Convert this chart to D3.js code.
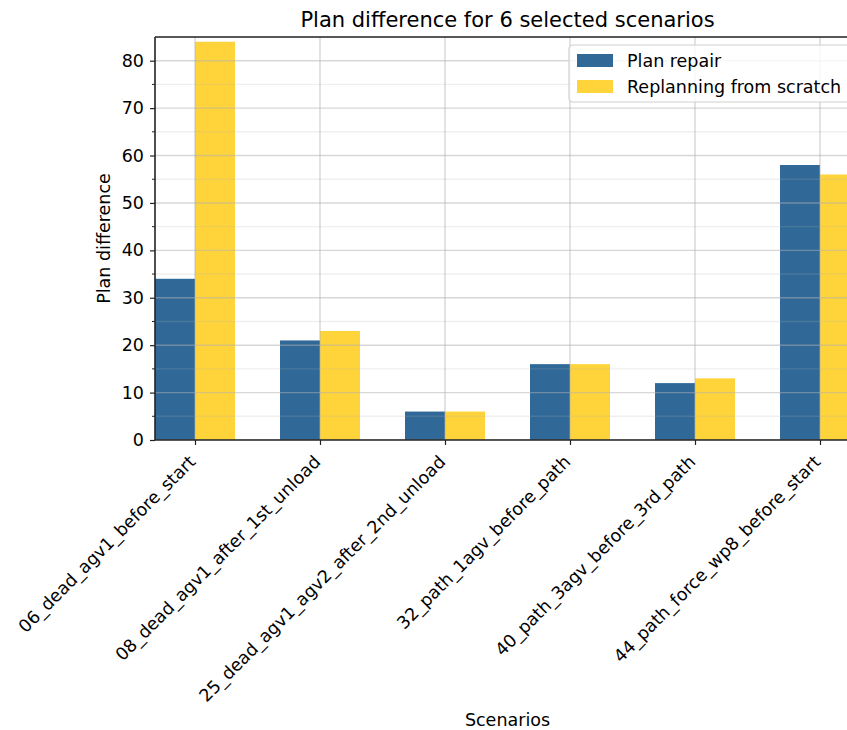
<!DOCTYPE html>
<html>
<head>
<meta charset="utf-8">
<script src="https://cdn.jsdelivr.net/npm/d3@7"></script>
<style>
  html, body { margin: 0; padding: 0; background: #fff; }
  svg { display: block; font-family: "DejaVu Sans", sans-serif; }
</style>
</head>
<body>
<svg id="chart" width="847" height="730"></svg>
<script>
// Scenario names and plan-difference values for both planners
const scenarios = [
  "06_dead_agv1_before_start",
  "08_dead_agv1_after_1st_unload",
  "25_dead_agv1_agv2_after_2nd_unload",
  "32_path_1agv_before_path",
  "40_path_3agv_before_3rd_path",
  "44_path_force_wp8_before_start"
];
const planRepair = [34, 21, 6, 16, 12, 58];
const replanning = [84, 23, 6, 16, 13, 56];
const seriesNames = ["Plan repair", "Replanning from scratch"];
const seriesColors = ["#306998", "#ffd43b"];
const yMajorTicks = [0, 10, 20, 30, 40, 50, 60, 70, 80];
const yMinorTicks = [5, 15, 25, 35, 45, 55, 65, 75, 85];

const svg = d3.select("#chart");
const margin = { left: 155, top: 37, right: 860, bottom: 440 };
const barWidth = 0.32;
const fs = 17.5;

const x = d3.scaleLinear()
  .domain([-barWidth, scenarios.length - 1 + barWidth])
  .range([margin.left, margin.right]);
const y = d3.scaleLinear().domain([0, 85]).range([margin.bottom, margin.top]);

const plot = svg.append("g");

// clip to the axes area
svg.append("defs").append("clipPath").attr("id", "axclip")
  .append("rect")
  .attr("x", margin.left).attr("y", margin.top)
  .attr("width", margin.right - margin.left)
  .attr("height", margin.bottom - margin.top);

const inner = plot.append("g").attr("clip-path", "url(#axclip)");

// bars
const series = [planRepair, replanning];
series.forEach((vals, si) => {
  inner.selectAll(".bar" + si)
    .data(vals)
    .enter().append("rect")
    .attr("x", (d, i) => x(i + (si === 0 ? -barWidth : 0)))
    .attr("width", (d, i) => x(i + barWidth) - x(i))
    .attr("y", d => y(d))
    .attr("height", d => y(0) - y(d))
    .attr("fill", seriesColors[si]);
});

// grid on top of bars
inner.selectAll(".ygridMinor").data(yMinorTicks).enter().append("line")
  .attr("x1", margin.left).attr("x2", margin.right)
  .attr("y1", d => y(d)).attr("y2", d => y(d))
  .attr("stroke", "#b0b0b0").attr("stroke-opacity", 0.2).attr("stroke-width", 1.4);
inner.selectAll(".ygrid").data(yMajorTicks).enter().append("line")
  .attr("x1", margin.left).attr("x2", margin.right)
  .attr("y1", d => y(d)).attr("y2", d => y(d))
  .attr("stroke", "#b0b0b0").attr("stroke-opacity", 0.5).attr("stroke-width", 1.4);
inner.selectAll(".xgrid").data(scenarios).enter().append("line")
  .attr("x1", (d, i) => x(i)).attr("x2", (d, i) => x(i))
  .attr("y1", margin.top).attr("y2", margin.bottom)
  .attr("stroke", "#b0b0b0").attr("stroke-opacity", 0.5).attr("stroke-width", 1.4);

// y axis
const yAxis = d3.axisLeft(y).tickValues(yMajorTicks).tickSize(5).tickPadding(6).tickFormat(d3.format("d"));
const gy = svg.append("g").attr("transform", `translate(${margin.left},0)`).call(yAxis);
gy.select(".domain").remove();
gy.selectAll("text").attr("font-size", fs).attr("fill", "#000").attr("font-family", "DejaVu Sans");
gy.selectAll("line").attr("stroke", "#222").attr("stroke-width", 1.2);
gy.selectAll(".minor").data(yMinorTicks.filter(d => d < 85)).enter().append("line")
  .attr("x1", -3).attr("x2", 0)
  .attr("y1", d => y(d)).attr("y2", d => y(d))
  .attr("stroke", "#222");

// x axis
const xAxis = d3.axisBottom(x).tickValues(d3.range(scenarios.length)).tickSize(5).tickFormat(i => scenarios[i]);
const gx = svg.append("g").attr("transform", `translate(0,${margin.bottom})`).call(xAxis);
gx.select(".domain").remove();
gx.selectAll("line").attr("stroke", "#222").attr("stroke-width", 1.2);
gx.selectAll("text")
  .attr("font-size", fs).attr("fill", "#000").attr("font-family", "DejaVu Sans")
  .attr("text-anchor", "end")
  .attr("dy", null).attr("y", 0)
  .attr("transform", "translate(1,23) rotate(-45)");

// spines
const spine = svg.append("g").attr("fill", "none").attr("stroke", "#222").attr("stroke-width", 1.6);
spine.append("line").attr("x1", margin.left).attr("x2", margin.left).attr("y1", margin.top).attr("y2", margin.bottom);
spine.append("line").attr("x1", margin.left).attr("x2", margin.right).attr("y1", margin.bottom).attr("y2", margin.bottom);
spine.append("line").attr("x1", margin.left).attr("x2", margin.right).attr("y1", margin.top).attr("y2", margin.top);
spine.append("line").attr("x1", margin.right).attr("x2", margin.right).attr("y1", margin.top).attr("y2", margin.bottom);

// title and axis labels
svg.append("text").attr("x", (margin.left + margin.right) / 2).attr("y", 27)
  .attr("text-anchor", "middle").attr("font-size", 21).text("Plan difference for 6 selected scenarios");
svg.append("text").attr("x", (margin.left + margin.right) / 2).attr("y", 726)
  .attr("text-anchor", "middle").attr("font-size", fs).text("Scenarios");
svg.append("text")
  .attr("transform", `translate(110,${(margin.top + margin.bottom) / 2}) rotate(-90)`)
  .attr("text-anchor", "middle").attr("font-size", fs).text("Plan difference");

// legend
const lg = svg.append("g").attr("transform", "translate(569,45)");
lg.append("rect").attr("x", 0).attr("y", 0).attr("width", 290).attr("height", 57)
  .attr("rx", 4).attr("fill", "#fff").attr("fill-opacity", 0.8).attr("stroke", "#d0d0d0").attr("stroke-width", 1.2);
seriesNames.forEach((name, i) => {
  lg.append("rect").attr("x", 8).attr("y", 9 + i * 26).attr("width", 36).attr("height", 13)
    .attr("fill", seriesColors[i]);
  lg.append("text").attr("x", 58).attr("y", 22 + i * 26).attr("font-size", fs).text(name);
});
</script>
</body>
</html>
